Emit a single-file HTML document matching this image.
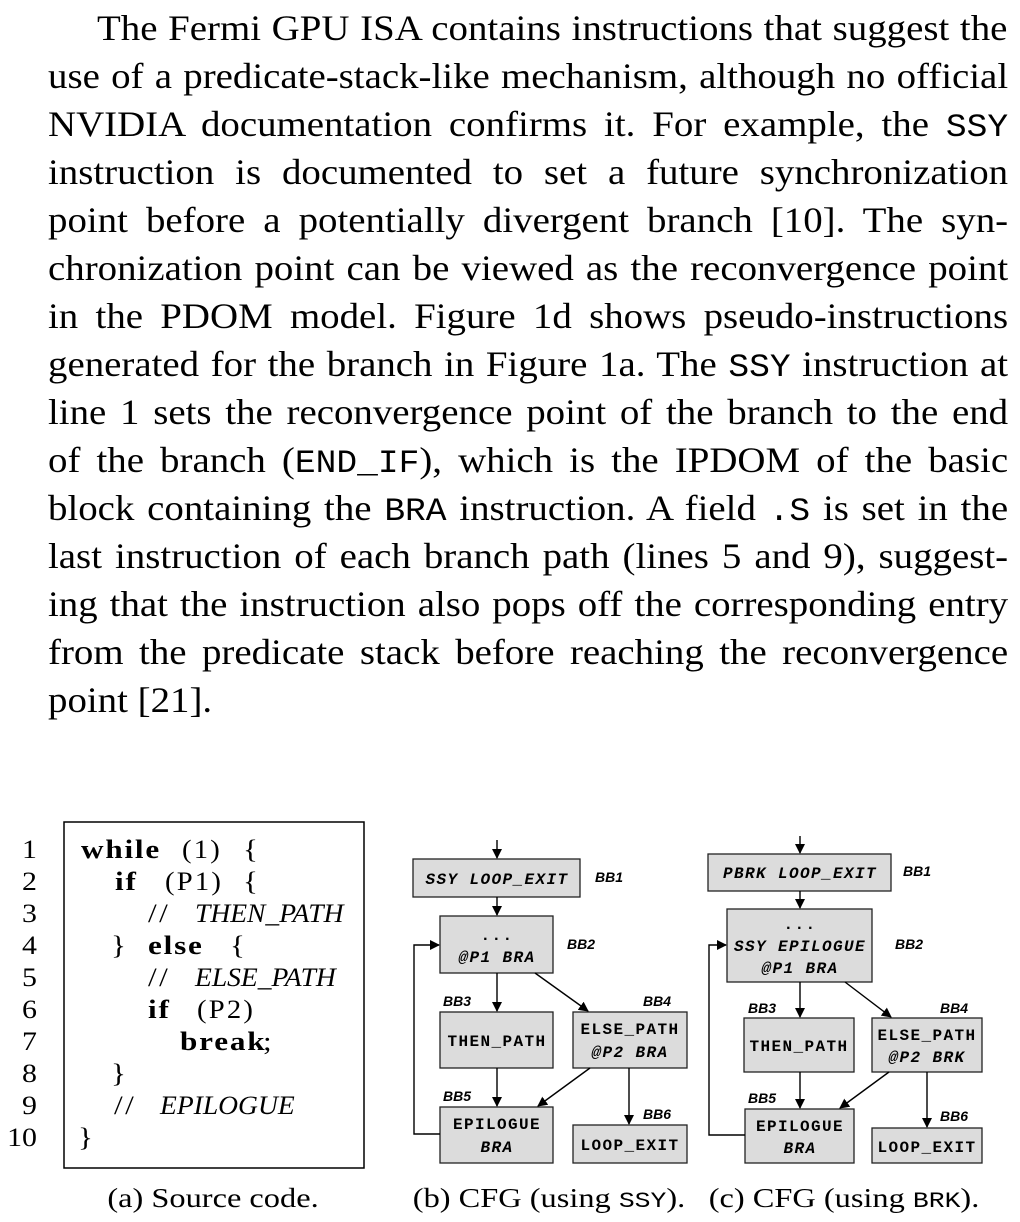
<!DOCTYPE html>
<html><head><meta charset="utf-8"><style>
body{margin:0;background:#fff;width:1020px;height:1222px;overflow:hidden;position:relative;font-family:"Liberation Serif",serif;color:#000}
.l{position:absolute;left:48px;width:889px;font-size:36px;line-height:48px;height:48px;text-align:justify;text-align-last:justify;white-space:nowrap;transform:scaleX(1.08);transform-origin:0 0}
.l.f{text-align-last:left}
.m{font-family:"Liberation Mono",monospace;font-size:32px}
svg{position:absolute;left:0;top:0}
.code{font-family:"Liberation Serif",serif;font-size:26px}
.cb{font-weight:bold;letter-spacing:1.5px}
.sp{letter-spacing:2px}
.box{fill:#dcdcdc;stroke:#222;stroke-width:1.3}
.bt{font-family:"Liberation Mono",monospace;font-weight:bold;font-size:16px;letter-spacing:1.4px;text-anchor:middle}
.bi{font-style:italic}
.lb{font-family:"Liberation Sans",sans-serif;font-weight:bold;font-style:italic;font-size:14px}
.ln{stroke:#000;stroke-width:1.4;fill:none}
.cap{font-family:"Liberation Serif",serif;font-size:27px}
</style></head><body>
<div class="l" style="top:4px;left:97px;width:843px">The Fermi GPU ISA contains instructions that suggest the</div>
<div class="l" style="top:52px">use of a predicate-stack-like mechanism, although no official</div>
<div class="l" style="top:100px">NVIDIA documentation confirms it. For example, the <span class="m">SSY</span></div>
<div class="l" style="top:148px">instruction is documented to set a future synchronization</div>
<div class="l" style="top:196px">point before a potentially divergent branch [10]. The syn-</div>
<div class="l" style="top:244px">chronization point can be viewed as the reconvergence point</div>
<div class="l" style="top:292px">in the PDOM model. Figure 1d shows pseudo-instructions</div>
<div class="l" style="top:340px">generated for the branch in Figure 1a. The <span class="m">SSY</span> instruction at</div>
<div class="l" style="top:388px">line 1 sets the reconvergence point of the branch to the end</div>
<div class="l" style="top:436px">of the branch (<span class="m">END_IF</span>), which is the IPDOM of the basic</div>
<div class="l" style="top:484px">block containing the <span class="m">BRA</span> instruction. A field <span class="m">.S</span> is set in the</div>
<div class="l" style="top:532px">last instruction of each branch path (lines 5 and 9), suggest-</div>
<div class="l" style="top:580px">ing that the instruction also pops off the corresponding entry</div>
<div class="l" style="top:628px">from the predicate stack before reaching the reconvergence</div>
<div class="l f" style="top:676px">point [21].</div>

<svg width="1020" height="1222" viewBox="0 0 1020 1222">
<defs><marker id="a" markerWidth="10" markerHeight="10" refX="9" refY="5" orient="auto" markerUnits="userSpaceOnUse"><path d="M0,0 L10,5 L0,10 z" fill="#000"/></marker></defs>
<rect x="64" y="822" width="300" height="346" fill="none" stroke="#000" stroke-width="1.5"/>
<g class="code" text-anchor="end">
<text transform="translate(37,858) scale(1.15,1)">1</text><text transform="translate(37,890) scale(1.15,1)">2</text><text transform="translate(37,922) scale(1.15,1)">3</text><text transform="translate(37,954) scale(1.15,1)">4</text><text transform="translate(37,986) scale(1.15,1)">5</text><text transform="translate(37,1018) scale(1.15,1)">6</text><text transform="translate(37,1050) scale(1.15,1)">7</text><text transform="translate(37,1082) scale(1.15,1)">8</text><text transform="translate(37,1114) scale(1.15,1)">9</text><text transform="translate(37,1146) scale(1.15,1)">10</text>
</g>
<g class="code">
<text class="cb" transform="translate(81,858) scale(1.2,1)">while</text>
<text class="sp" transform="translate(182,858) scale(1.1,1)">(1)</text>
<text transform="translate(243,858) scale(1.2,1)">{</text>
<text class="cb" transform="translate(115,890) scale(1.2,1)">if</text>
<text class="sp" transform="translate(165,890) scale(1.1,1)">(P1)</text>
<text transform="translate(243,890) scale(1.2,1)">{</text>
<text class="sp" transform="translate(148,922) scale(1.2,1)">//</text>
<text font-style="italic" transform="translate(195,922) scale(1.06,1)">THEN_PATH</text>
<text transform="translate(111,954) scale(1.2,1)">}</text>
<text class="cb" transform="translate(148,954) scale(1.2,1)">else</text>
<text transform="translate(230,954) scale(1.2,1)">{</text>
<text class="sp" transform="translate(148,986) scale(1.2,1)">//</text>
<text font-style="italic" transform="translate(195,986) scale(1.06,1)">ELSE_PATH</text>
<text class="cb" transform="translate(148,1018) scale(1.2,1)">if</text>
<text class="sp" transform="translate(197,1018) scale(1.1,1)">(P2)</text>
<text class="cb" transform="translate(180,1050) scale(1.2,1)">break</text>
<text transform="translate(263,1050) scale(1.2,1)">;</text>
<text transform="translate(111,1082) scale(1.2,1)">}</text>
<text class="sp" transform="translate(114,1114) scale(1.2,1)">//</text>
<text font-style="italic" transform="translate(160,1114) scale(1.06,1)">EPILOGUE</text>
<text transform="translate(78,1146) scale(1.2,1)">}</text>
</g>
<text class="cap" text-anchor="middle" transform="translate(213,1207) scale(1.2,1)">(a) Source code.</text>
<text class="cap" text-anchor="middle" transform="translate(549,1207) scale(1.2,1)">(b) CFG (using <tspan font-family="Liberation Mono" font-size="22">SSY</tspan>).</text>
<text class="cap" text-anchor="middle" transform="translate(844,1207) scale(1.2,1)">(c) CFG (using <tspan font-family="Liberation Mono" font-size="22">BRK</tspan>).</text>

<rect class="box" x="413" y="859" width="167" height="38"/>
<rect class="box" x="440" y="916" width="113" height="57"/>
<rect class="box" x="440" y="1012" width="113" height="56"/>
<rect class="box" x="573" y="1012" width="114" height="56"/>
<rect class="box" x="440" y="1107" width="113" height="56"/>
<rect class="box" x="573" y="1125" width="114" height="38"/>
<line class="ln" x1="497" y1="840" x2="497" y2="858" marker-end="url(#a)"/>
<line class="ln" x1="497" y1="897" x2="497" y2="915" marker-end="url(#a)"/>
<line class="ln" x1="497" y1="973" x2="497" y2="1011" marker-end="url(#a)"/>
<line class="ln" x1="535" y1="973" x2="588" y2="1011" marker-end="url(#a)"/>
<line class="ln" x1="497" y1="1068" x2="497" y2="1106" marker-end="url(#a)"/>
<line class="ln" x1="590" y1="1068" x2="538" y2="1106" marker-end="url(#a)"/>
<line class="ln" x1="629" y1="1068" x2="629" y2="1124" marker-end="url(#a)"/>
<polyline class="ln" points="440,1134 414,1134 414,945 439,945" marker-end="url(#a)"/>
<text class="bt bi" x="497" y="884">SSY LOOP_EXIT</text>
<text class="bt" x="497" y="940">...</text>
<text class="bt bi" x="497" y="962">@P1 BRA</text>
<text class="bt" x="497" y="1046">THEN_PATH</text>
<text class="bt" x="630" y="1034">ELSE_PATH</text>
<text class="bt bi" x="630" y="1057">@P2 BRA</text>
<text class="bt" x="497" y="1129">EPILOGUE</text>
<text class="bt bi" x="497" y="1152">BRA</text>
<text class="bt" x="630" y="1150">LOOP_EXIT</text>
<text class="lb" x="595" y="882">BB1</text>
<text class="lb" x="567" y="949">BB2</text>
<text class="lb" x="443" y="1006">BB3</text>
<text class="lb" x="643" y="1006">BB4</text>
<text class="lb" x="443" y="1101">BB5</text>
<text class="lb" x="643" y="1119">BB6</text>

<rect class="box" x="708" y="854" width="183" height="37"/>
<rect class="box" x="727" y="909" width="145" height="73"/>
<rect class="box" x="744" y="1018" width="110" height="54"/>
<rect class="box" x="872" y="1018" width="110" height="54"/>
<rect class="box" x="745" y="1109" width="109" height="54"/>
<rect class="box" x="872" y="1128" width="110" height="35"/>
<line class="ln" x1="800" y1="836" x2="800" y2="853" marker-end="url(#a)"/>
<line class="ln" x1="800" y1="891" x2="800" y2="908" marker-end="url(#a)"/>
<line class="ln" x1="800" y1="982" x2="800" y2="1017" marker-end="url(#a)"/>
<line class="ln" x1="845" y1="982" x2="891" y2="1017" marker-end="url(#a)"/>
<line class="ln" x1="800" y1="1072" x2="800" y2="1108" marker-end="url(#a)"/>
<line class="ln" x1="889" y1="1072" x2="840" y2="1108" marker-end="url(#a)"/>
<line class="ln" x1="927" y1="1072" x2="927" y2="1127" marker-end="url(#a)"/>
<polyline class="ln" points="745,1135 709,1135 709,945 726,945" marker-end="url(#a)"/>
<text class="bt bi" x="800" y="878">PBRK LOOP_EXIT</text>
<text class="bt" x="800" y="929">...</text>
<text class="bt bi" x="800" y="951">SSY EPILOGUE</text>
<text class="bt bi" x="800" y="973">@P1 BRA</text>
<text class="bt" x="799" y="1051">THEN_PATH</text>
<text class="bt" x="927" y="1040">ELSE_PATH</text>
<text class="bt bi" x="927" y="1062">@P2 BRK</text>
<text class="bt" x="800" y="1131">EPILOGUE</text>
<text class="bt bi" x="800" y="1153">BRA</text>
<text class="bt" x="927" y="1152">LOOP_EXIT</text>
<text class="lb" x="903" y="876">BB1</text>
<text class="lb" x="895" y="949">BB2</text>
<text class="lb" x="748" y="1013">BB3</text>
<text class="lb" x="940" y="1013">BB4</text>
<text class="lb" x="748" y="1103">BB5</text>
<text class="lb" x="940" y="1121">BB6</text>
</svg>
</body></html>
